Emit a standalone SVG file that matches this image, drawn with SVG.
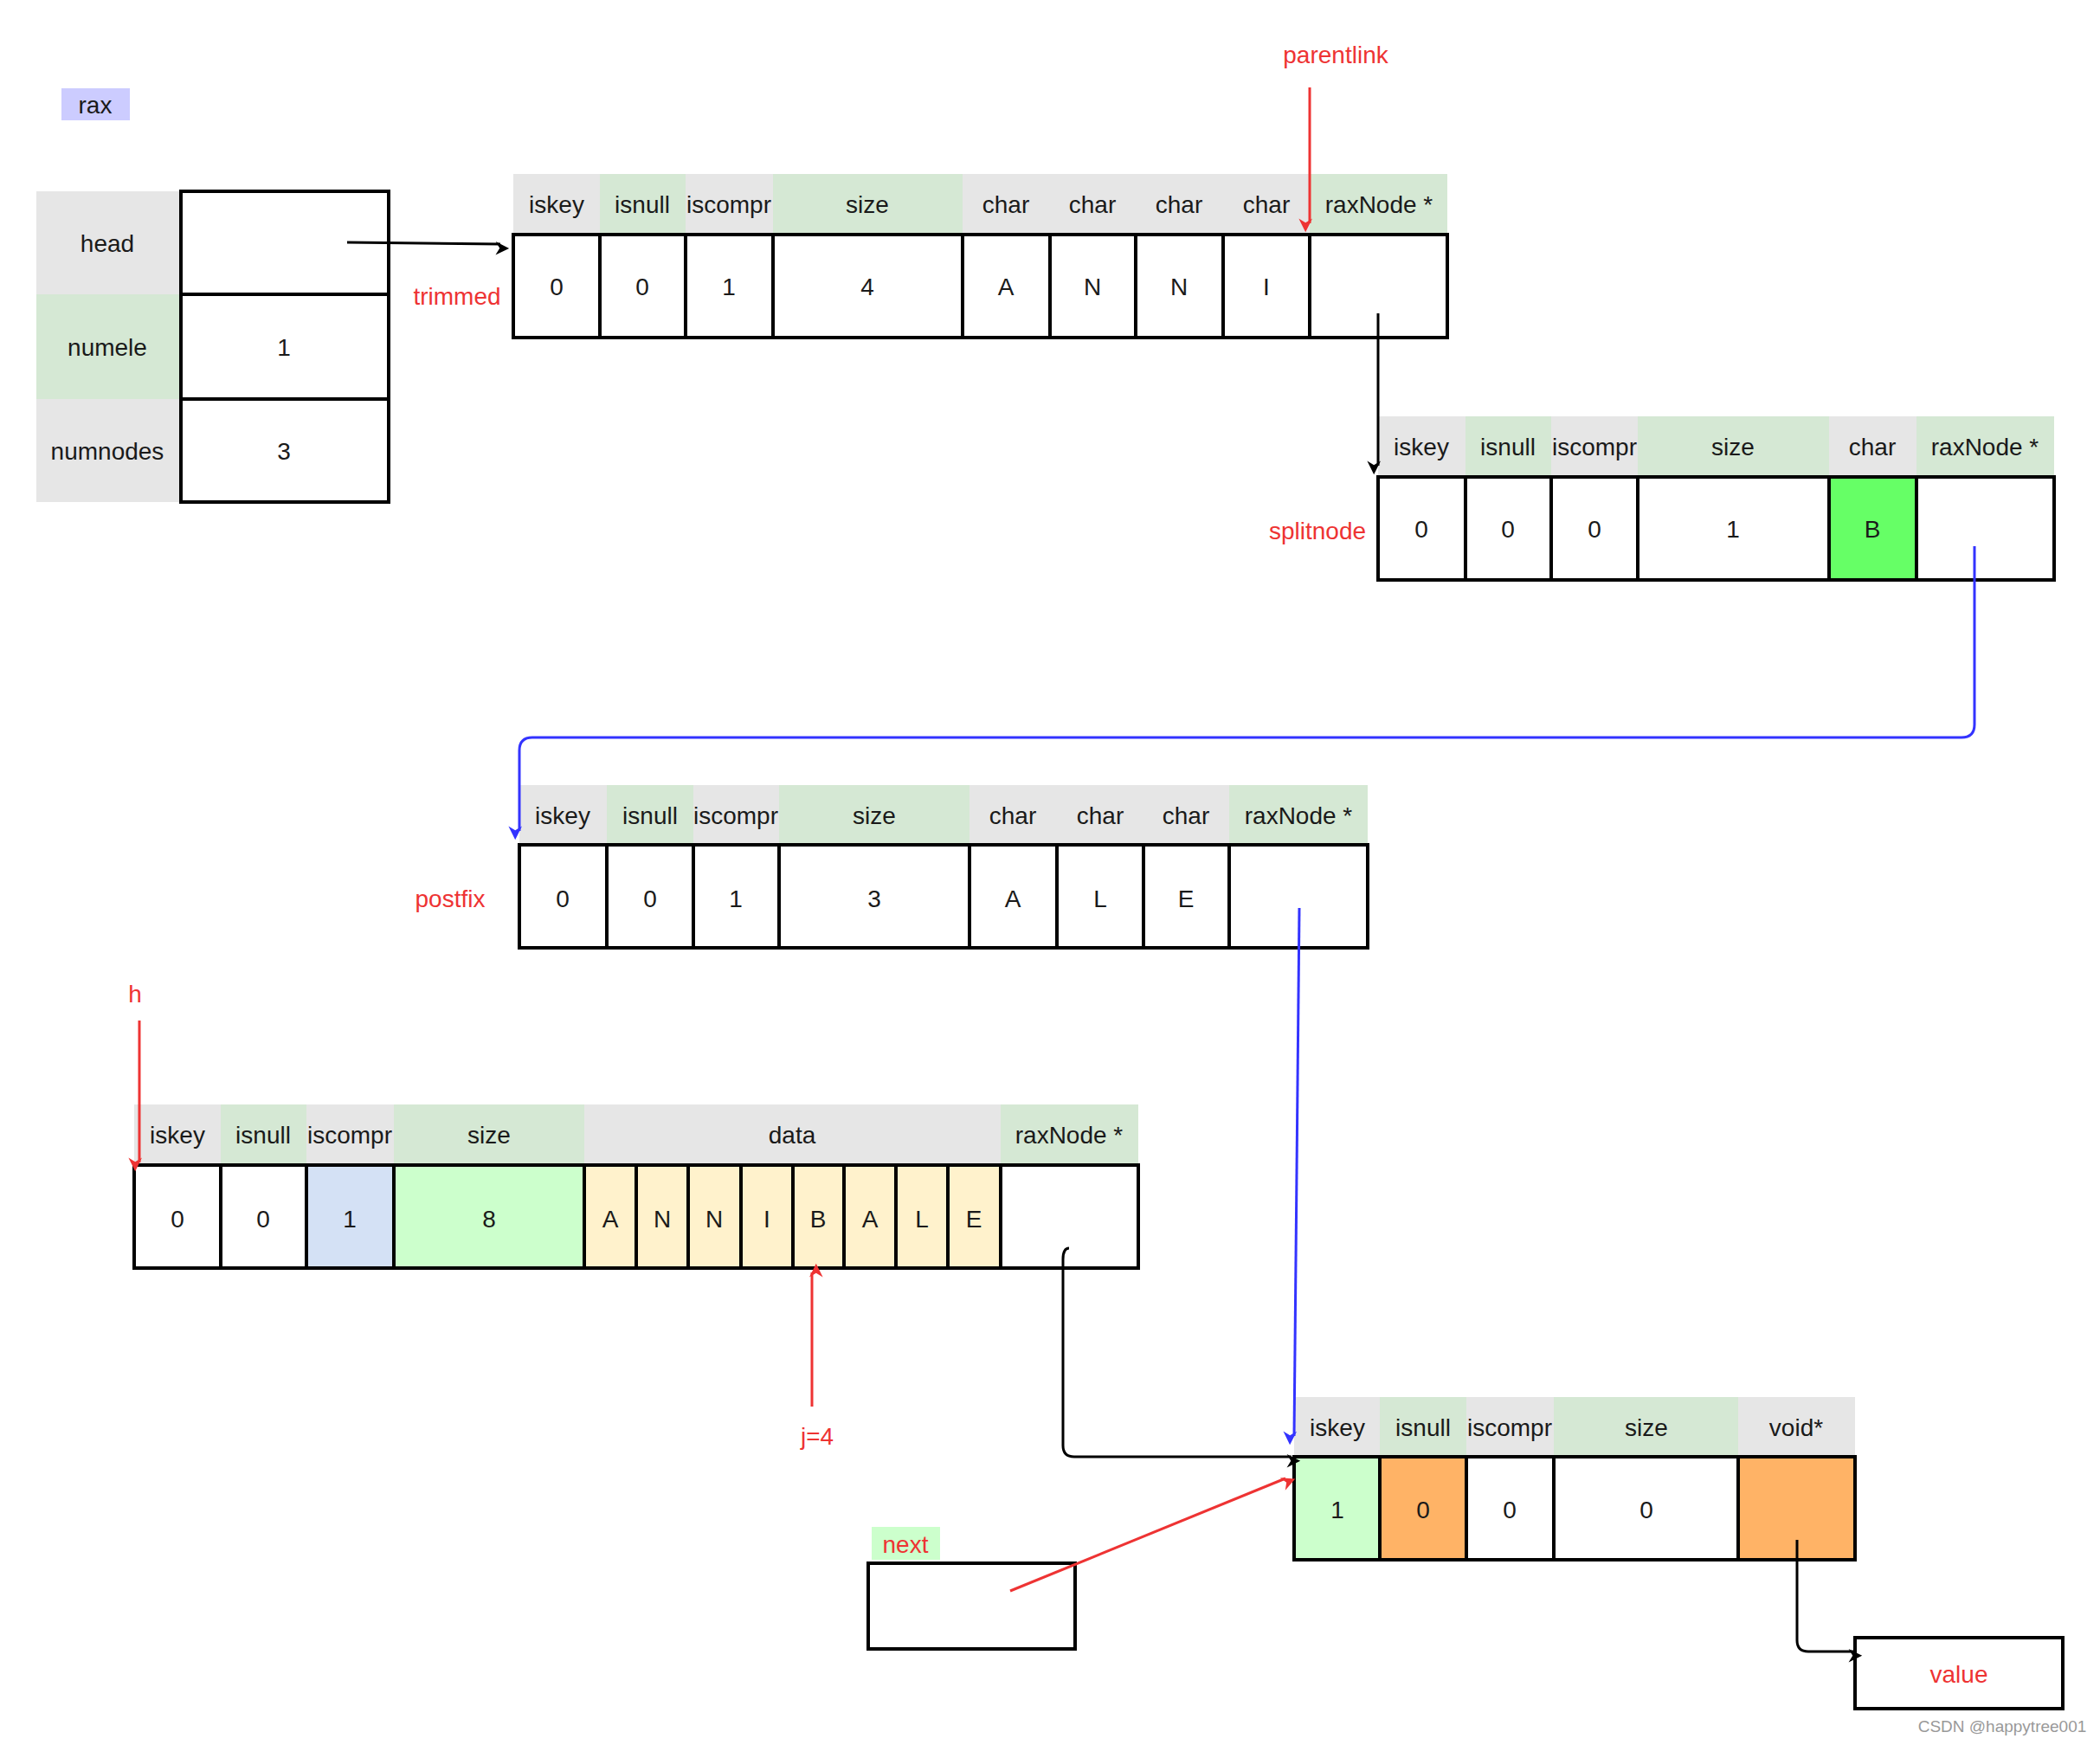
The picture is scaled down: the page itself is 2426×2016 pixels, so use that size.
<svg xmlns="http://www.w3.org/2000/svg" width="2426" height="2016" viewBox="0 0 2426 2016">
<style>
text{font-family:"Liberation Sans",Arial,sans-serif;font-size:28px;text-anchor:middle;dominant-baseline:central;fill:#1a1a1a}
.r{fill:#ee3333}
.g{fill:#e6e6e6}
.gr{fill:#d5e8d4}
.c{stroke:#000;stroke-width:4;fill:#fff}
.w{fill:#999;font-size:19px}
.k{fill:none;stroke:#000;stroke-width:3}
.rl{fill:none;stroke:#ee3333;stroke-width:3}
.bl{fill:none;stroke:#3333ff;stroke-width:3}
</style>
<defs>
<marker id="ak" viewBox="0 0 10 10" refX="9" refY="5" markerWidth="6" markerHeight="6" orient="auto" markerUnits="userSpaceOnUse" style="overflow:visible"><path d="M0,0 L10,5 L0,10 L3,5 Z" fill="#000" transform="scale(2.6)"/></marker>
<marker id="ar" viewBox="0 0 10 10" refX="9" refY="5" markerWidth="6" markerHeight="6" orient="auto" markerUnits="userSpaceOnUse" style="overflow:visible"><path d="M0,0 L10,5 L0,10 L3,5 Z" fill="#ee3333" transform="scale(2.6)"/></marker>
<marker id="ab" viewBox="0 0 10 10" refX="9" refY="5" markerWidth="6" markerHeight="6" orient="auto" markerUnits="userSpaceOnUse" style="overflow:visible"><path d="M0,0 L10,5 L0,10 L3,5 Z" fill="#3333ff" transform="scale(2.6)"/></marker>
</defs>
<rect width="2426" height="2016" fill="#fff"/>

<g id="rax">
<rect x="71" y="102" width="79" height="37" fill="#ccccff"/><text x="110" y="121">rax</text>
<rect x="42" y="221" width="165" height="119" class="g"/><text x="124" y="281">head</text>
<rect x="42" y="340" width="165" height="121" class="gr"/><text x="124" y="401">numele</text>
<rect x="42" y="461" width="165" height="119" class="g"/><text x="124" y="521">numnodes</text>
<rect x="209" y="221" width="240" height="119" class="c"/>
<rect x="209" y="340" width="240" height="121" class="c"/><text x="328" y="401">1</text>
<rect x="209" y="461" width="240" height="119" class="c"/><text x="328" y="521">3</text>
</g>

<g id="trimmed">
<text x="528" y="342" class="r">trimmed</text>
<rect x="593" y="201" width="100" height="70" class="g"/><text x="643" y="236">iskey</text>
<rect x="693" y="201" width="99" height="70" class="gr"/><text x="742" y="236">isnull</text>
<rect x="792" y="201" width="101" height="70" class="g"/><text x="842" y="236">iscompr</text>
<rect x="893" y="201" width="219" height="70" class="gr"/><text x="1002" y="236">size</text>
<rect x="1112" y="201" width="401" height="70" class="g"/>
<text x="1162" y="236">char</text><text x="1262" y="236">char</text><text x="1362" y="236">char</text><text x="1463" y="236">char</text>
<rect x="1513" y="201" width="159" height="70" class="gr"/><text x="1593" y="236">raxNode *</text>
<rect x="593" y="271" width="100" height="119" class="c"/><text x="643" y="331">0</text>
<rect x="693" y="271" width="99" height="119" class="c"/><text x="742" y="331">0</text>
<rect x="792" y="271" width="101" height="119" class="c"/><text x="842" y="331">1</text>
<rect x="893" y="271" width="219" height="119" class="c"/><text x="1002" y="331">4</text>
<rect x="1112" y="271" width="101" height="119" class="c"/><text x="1162" y="331">A</text>
<rect x="1213" y="271" width="99" height="119" class="c"/><text x="1262" y="331">N</text>
<rect x="1312" y="271" width="101" height="119" class="c"/><text x="1362" y="331">N</text>
<rect x="1413" y="271" width="100" height="119" class="c"/><text x="1463" y="331">I</text>
<rect x="1513" y="271" width="159" height="119" class="c"/>
</g>

<g id="parentlink"><text x="1543" y="63" class="r">parentlink</text></g>

<g id="splitnode">
<text x="1522" y="613" class="r">splitnode</text>
<rect x="1592" y="481" width="101" height="70" class="g"/><text x="1642" y="516">iskey</text>
<rect x="1693" y="481" width="99" height="70" class="gr"/><text x="1742" y="516">isnull</text>
<rect x="1792" y="481" width="100" height="70" class="g"/><text x="1842" y="516">iscompr</text>
<rect x="1892" y="481" width="221" height="70" class="gr"/><text x="2002" y="516">size</text>
<rect x="2113" y="481" width="101" height="70" class="g"/><text x="2163" y="516">char</text>
<rect x="2214" y="481" width="159" height="70" class="gr"/><text x="2293" y="516">raxNode *</text>
<rect x="1592" y="551" width="101" height="119" class="c"/><text x="1642" y="611">0</text>
<rect x="1693" y="551" width="99" height="119" class="c"/><text x="1742" y="611">0</text>
<rect x="1792" y="551" width="100" height="119" class="c"/><text x="1842" y="611">0</text>
<rect x="1892" y="551" width="221" height="119" class="c"/><text x="2002" y="611">1</text>
<rect x="2113" y="551" width="101" height="119" class="c" style="fill:#66ff66"/><text x="2163" y="611">B</text>
<rect x="2214" y="551" width="159" height="119" class="c"/>
</g>

<g id="postfix">
<text x="520" y="1038" class="r">postfix</text>
<rect x="600" y="907" width="101" height="69" class="g"/><text x="650" y="942">iskey</text>
<rect x="701" y="907" width="100" height="69" class="gr"/><text x="751" y="942">isnull</text>
<rect x="801" y="907" width="99" height="69" class="g"/><text x="850" y="942">iscompr</text>
<rect x="900" y="907" width="220" height="69" class="gr"/><text x="1010" y="942">size</text>
<rect x="1120" y="907" width="300" height="69" class="g"/>
<text x="1170" y="942">char</text><text x="1271" y="942">char</text><text x="1370" y="942">char</text>
<rect x="1420" y="907" width="160" height="69" class="gr"/><text x="1500" y="942">raxNode *</text>
<rect x="600" y="976" width="101" height="119" class="c"/><text x="650" y="1038">0</text>
<rect x="701" y="976" width="100" height="119" class="c"/><text x="751" y="1038">0</text>
<rect x="801" y="976" width="99" height="119" class="c"/><text x="850" y="1038">1</text>
<rect x="900" y="976" width="220" height="119" class="c"/><text x="1010" y="1038">3</text>
<rect x="1120" y="976" width="101" height="119" class="c"/><text x="1170" y="1038">A</text>
<rect x="1221" y="976" width="100" height="119" class="c"/><text x="1271" y="1038">L</text>
<rect x="1321" y="976" width="99" height="119" class="c"/><text x="1370" y="1038">E</text>
<rect x="1420" y="976" width="160" height="119" class="c"/>
</g>

<g id="h">
<text x="156" y="1148" class="r">h</text>
<rect x="155" y="1276" width="100" height="70" class="g"/><text x="205" y="1311">iskey</text>
<rect x="255" y="1276" width="99" height="70" class="gr"/><text x="304" y="1311">isnull</text>
<rect x="354" y="1276" width="101" height="70" class="g"/><text x="404" y="1311">iscompr</text>
<rect x="455" y="1276" width="220" height="70" class="gr"/><text x="565" y="1311">size</text>
<rect x="675" y="1276" width="481" height="70" class="g"/><text x="915" y="1311">data</text>
<rect x="1156" y="1276" width="159" height="70" class="gr"/><text x="1235" y="1311">raxNode *</text>
<rect x="155" y="1346" width="100" height="119" class="c"/><text x="205" y="1408">0</text>
<rect x="255" y="1346" width="99" height="119" class="c"/><text x="304" y="1408">0</text>
<rect x="354" y="1346" width="101" height="119" class="c" style="fill:#d4e1f5"/><text x="404" y="1408">1</text>
<rect x="455" y="1346" width="220" height="119" class="c" style="fill:#ccffcc"/><text x="565" y="1408">8</text>
<g style="fill:#fff2cc">
<rect x="675" y="1346" width="60" height="119" class="c" style="fill:#fff2cc"/><text x="705" y="1408">A</text>
<rect x="735" y="1346" width="60" height="119" class="c" style="fill:#fff2cc"/><text x="765" y="1408">N</text>
<rect x="795" y="1346" width="61" height="119" class="c" style="fill:#fff2cc"/><text x="825" y="1408">N</text>
<rect x="856" y="1346" width="60" height="119" class="c" style="fill:#fff2cc"/><text x="886" y="1408">I</text>
<rect x="916" y="1346" width="59" height="119" class="c" style="fill:#fff2cc"/><text x="945" y="1408">B</text>
<rect x="975" y="1346" width="60" height="119" class="c" style="fill:#fff2cc"/><text x="1005" y="1408">A</text>
<rect x="1035" y="1346" width="60" height="119" class="c" style="fill:#fff2cc"/><text x="1065" y="1408">L</text>
<rect x="1095" y="1346" width="61" height="119" class="c" style="fill:#fff2cc"/><text x="1125" y="1408">E</text>
</g>
<rect x="1156" y="1346" width="159" height="119" class="c"/>
<text x="944" y="1659" class="r">j=4</text>
</g>

<g id="leaf">
<rect x="1495" y="1614" width="99" height="69" class="g"/><text x="1545" y="1649">iskey</text>
<rect x="1594" y="1614" width="100" height="69" class="gr"/><text x="1644" y="1649">isnull</text>
<rect x="1694" y="1614" width="101" height="69" class="g"/><text x="1744" y="1649">iscompr</text>
<rect x="1795" y="1614" width="213" height="69" class="gr"/><text x="1902" y="1649">size</text>
<rect x="2008" y="1614" width="135" height="69" class="g"/><text x="2075" y="1649">void*</text>
<rect x="1495" y="1683" width="99" height="119" class="c" style="fill:#ccffcc"/><text x="1545" y="1744">1</text>
<rect x="1594" y="1683" width="100" height="119" class="c" style="fill:#ffb366"/><text x="1644" y="1744">0</text>
<rect x="1694" y="1683" width="101" height="119" class="c"/><text x="1744" y="1744">0</text>
<rect x="1795" y="1683" width="213" height="119" class="c"/><text x="1902" y="1744">0</text>
<rect x="2008" y="1683" width="135" height="119" class="c" style="fill:#ffb366"/>
</g>

<g id="next">
<rect x="1007" y="1764" width="79" height="38" fill="#ccffcc"/><text x="1046" y="1784" class="r">next</text>
<rect x="1003" y="1806" width="239" height="99" class="c"/>
</g>

<g id="value">
<rect x="2143" y="1892" width="240" height="82" class="c"/><text x="2263" y="1934" class="r">value</text>
</g>

<g id="connectors">
<path d="M401,280 L578,282" class="k" marker-end="url(#ak)"/>
<path d="M1513,101 L1513,258" class="rl" marker-end="url(#ar)"/>
<path d="M1592,362 L1592,538" class="k" marker-end="url(#ak)"/>
<path d="M2281,631 L2281,837 Q2281,852 2266,852 L615,852 Q600,852 600,867 L600,960" class="bl" marker-end="url(#ab)"/>
<path d="M1501,1049 L1495,1659" class="bl" marker-end="url(#ab)"/>
<path d="M161,1179 L161,1343" class="rl" marker-end="url(#ar)"/>
<path d="M938,1625 L938,1470" class="rl" marker-end="url(#ar)"/>
<path d="M1235,1442 Q1228,1442 1228,1455 L1228,1670 Q1228,1683 1241,1683 L1492,1683" class="k" marker-end="url(#ak)"/>
<path d="M1167,1838 L1485,1708" class="rl" marker-end="url(#ar)"/>
<path d="M2076,1779 L2076,1895 Q2076,1908 2089,1908 L2141,1908" class="k" marker-end="url(#ak)"/>
</g>
<text x="2313" y="1994" class="w">CSDN @happytree001</text>
</svg>
